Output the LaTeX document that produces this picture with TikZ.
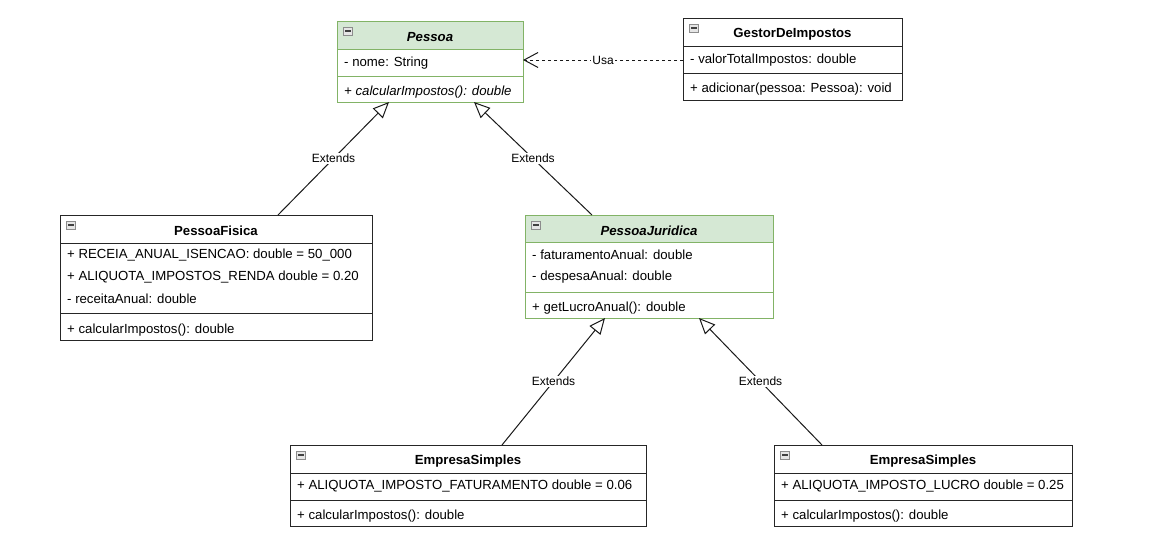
\documentclass[tikz,border=0pt]{standalone}
\usepackage{fontspec}
\setmainfont{Liberation Sans}
\usetikzlibrary{arrows.meta}
\definecolor{hdrgreen}{HTML}{D5E8D4}
\definecolor{lngreen}{HTML}{82B366}
\definecolor{icongray}{HTML}{8C8C8C}

\tikzset{
 greenhdr/.style={fill=hdrgreen},
 greenln/.style={draw=lngreen, line width=1pt},
 plainhdr/.style={fill=white},
 plainln/.style={draw=black!85, line width=1pt},
 cls/.style={anchor=north west, inner sep=0pt, outer sep=0pt, fill=white},
 ttl/.style={font=\fontsize{13.2}{15}\selectfont\bfseries, inner sep=0pt},
 row/.style={font=\fontsize{13.2}{15}\selectfont, anchor=west, inner sep=0pt},
 lbl/.style={font=\fontsize{12}{14}\selectfont, fill=white, inner sep=1pt},
 ext/.style={draw=black!90, line width=1pt, -{Triangle[open, length=16pt, width=14pt, fill=white]}},
 uses/.style={draw=black!90, line width=1pt, dash pattern=on 3pt off 3pt, -{Straight Barb[length=14pt, width=15pt]}},
}

% #1 name, #2 x, #3 y, #4 w, #5 h, #6 header height, #7 divider offset, #8 style prefix
\newcommand{\umlcls}[8]{%
 \node[cls, minimum width=#4pt, minimum height=#5pt] (#1) at (#2,#3) {};
 \fill[#8hdr] (#2,#3) rectangle ++(#4,#6);
 \draw[#8ln] (#2,#3+#6) -- ++(#4,0);
 \draw[#8ln] (#2,#3+#7) -- ++(#4,0);
 \draw[#8ln] (#1.north west) rectangle (#1.south east);
 \filldraw[draw=icongray, fill=gray!20, line width=0.8pt] (#2+6.5,#3+6) rectangle ++(9,8);
 \draw[draw=gray!50!black, line width=1.8pt] (#2+8,#3+10) -- ++(6,0);
}

\begin{document}
\begin{tikzpicture}[x=1pt, y=-1pt]
\useasboundingbox (0,0) rectangle (1159,554);

% Pessoa
\umlcls{pessoa}{337}{21}{186}{81}{28}{55}{green}
\node[ttl] (pessoaT) at (430,37) {\itshape Pessoa};
\node[row] (pessoaA) at (344,63) {- nome: String};
\node[row] (pessoaM) at (344,92) {\itshape + calcularImpostos(): double};

% GestorDeImpostos
\umlcls{gestor}{683}{18}{219}{82}{28}{55}{plain}
\node[ttl] (gestorT) at (792.5,34) {GestorDeImpostos};
\node[row] (gestorA) at (690,60) {- valorTotalImpostos: double};
\node[row] (gestorM) at (690,89) {+ adicionar(pessoa: Pessoa): void};

% PessoaFisica
\umlcls{pf}{60}{215}{312}{125}{28}{98}{plain}
\node[ttl] (pfT) at (216,231) {PessoaFisica};
\node[row] (pfA1) at (67,255) {+ RECEIA\_ANUAL\_ISENCAO: double = 50\_000};
\node[row] (pfA2) at (67,277) {+ ALIQUOTA\_IMPOSTOS\_RENDA double = 0.20};
\node[row] (pfA3) at (67,299) {- receitaAnual: double};
\node[row] (pfM) at (67,330) {+ calcularImpostos(): double};

% PessoaJuridica
\umlcls{pj}{525}{215}{248}{103}{27}{77}{green}
\node[ttl] (pjT) at (649,231) {\itshape PessoaJuridica};
\node[row] (pjA1) at (532,255) {- faturamentoAnual: double};
\node[row] (pjA2) at (532,277) {- despesaAnual: double};
\node[row] (pjM) at (532,308) {+ getLucroAnual(): double};

% EmpresaSimples 1
\umlcls{ea}{290}{445}{356}{81}{28}{55}{plain}
\node[ttl] (eaT) at (468,461) {EmpresaSimples};
\node[row] (eaA) at (297,486) {+ ALIQUOTA\_IMPOSTO\_FATURAMENTO double = 0.06};
\node[row] (eaM) at (297,516) {+ calcularImpostos(): double};

% EmpresaSimples 2
\umlcls{eb}{774}{445}{298}{81}{28}{55}{plain}
\node[ttl] (ebT) at (923,461) {EmpresaSimples};
\node[row] (ebA) at (781,486) {+ ALIQUOTA\_IMPOSTO\_LUCRO double = 0.25};
\node[row] (ebM) at (781,516) {+ calcularImpostos(): double};

% Connectors
\draw[ext] ([xshift=62pt]pf.north) -- ([xshift=-41pt]pessoa.south) node[lbl, midway] (l1) {Extends};
\draw[ext] ([xshift=-57pt]pj.north) -- ([xshift=44pt]pessoa.south) node[lbl, midway] (l2) {Extends};
\draw[ext] ([xshift=34pt]ea.north) -- ([xshift=-44pt]pj.south) node[lbl, midway] (l3) {Extends};
\draw[ext] ([xshift=-101pt]eb.north) -- ([xshift=50pt]pj.south) node[lbl, midway] (l4) {Extends};
\draw[uses] ([yshift=-1pt]gestor.west) -- ([yshift=-1pt]gestor.west -| pessoa.east) node[lbl, midway] (l5) {Usa};
\end{tikzpicture}
\end{document}
